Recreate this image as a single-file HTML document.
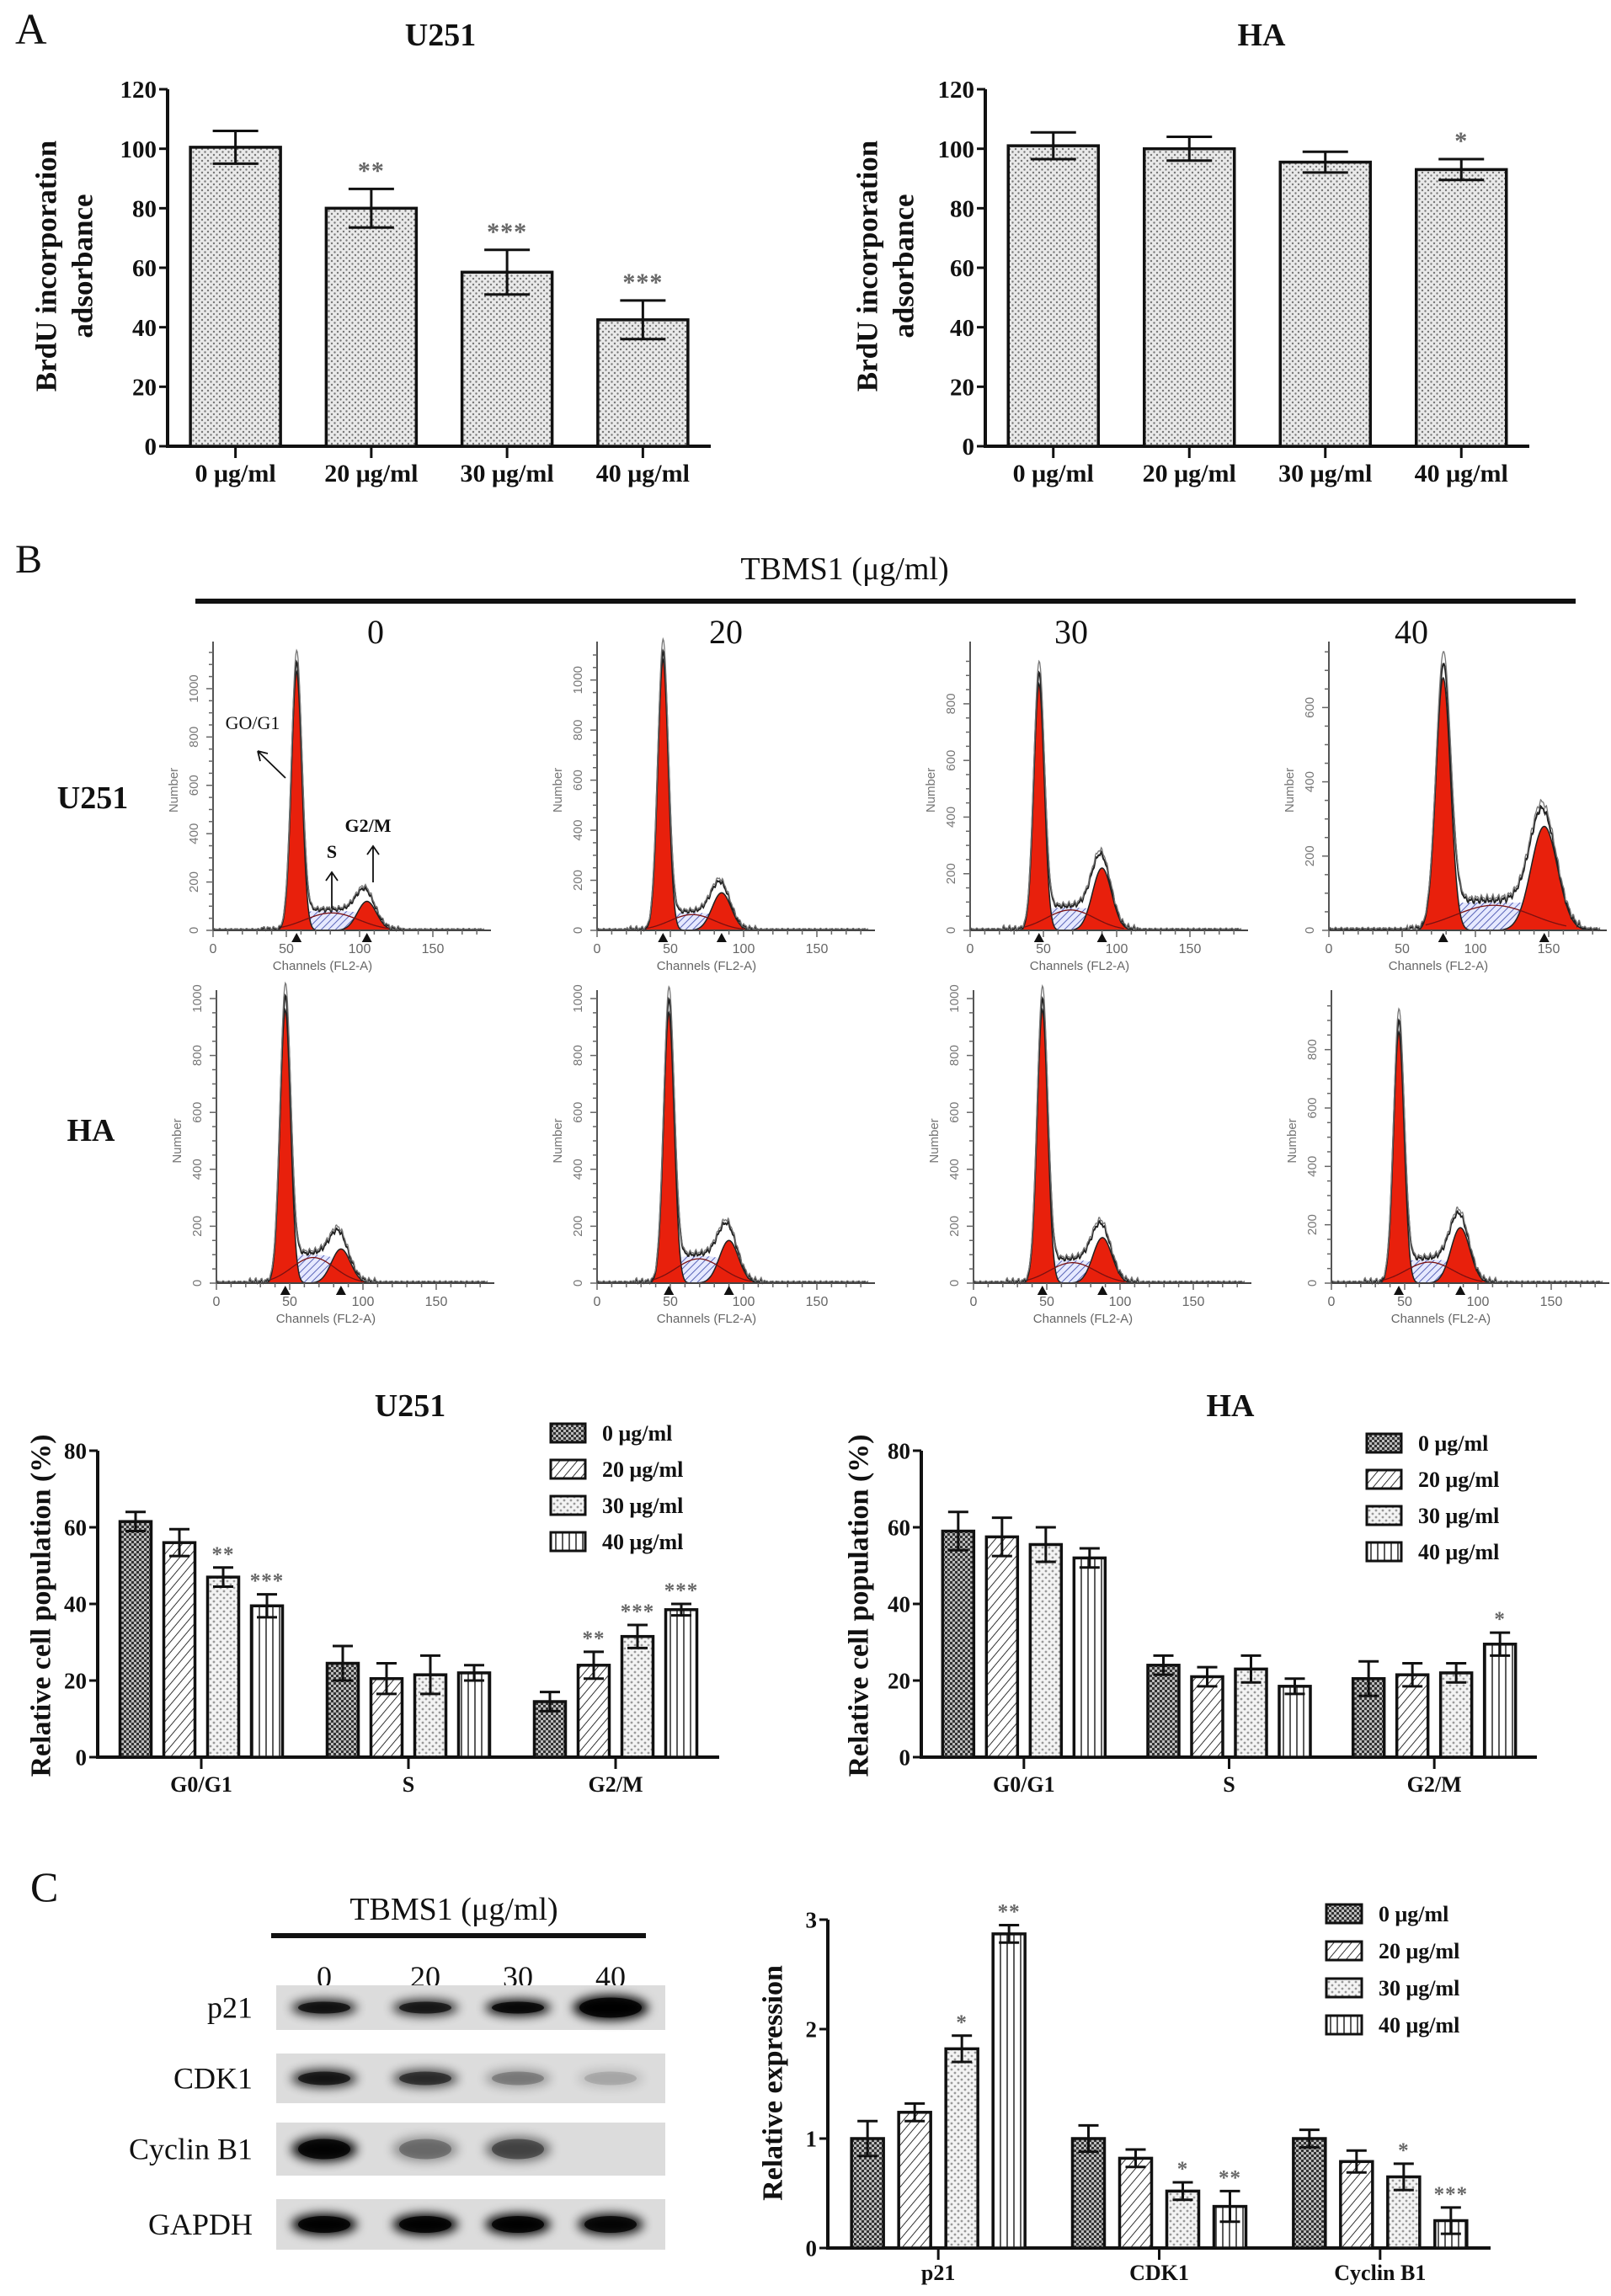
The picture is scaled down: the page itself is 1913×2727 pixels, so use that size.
<!DOCTYPE html>
<html><head><meta charset="utf-8"><style>
html,body{margin:0;padding:0;background:#fff;}
svg{display:block;}
text{font-family:"Liberation Serif",serif;}
.sans{font-family:"Liberation Sans",sans-serif;}
</style></head><body>
<svg id="fig" xmlns="http://www.w3.org/2000/svg" width="1913" height="2727" viewBox="0 0 1913 2727">
<defs>
<pattern id="pA" width="7" height="7" patternUnits="userSpaceOnUse"><rect width="7" height="7" fill="#e9e9e9"/><circle cx="2" cy="2" r="1.2" fill="#777"/><circle cx="5.5" cy="5.5" r="1.2" fill="#777"/></pattern>
<pattern id="p0" width="6" height="6" patternUnits="userSpaceOnUse"><rect width="6" height="6" fill="#bbb"/><rect width="3" height="3" fill="#333"/><rect x="3" y="3" width="3" height="3" fill="#333"/></pattern>
<pattern id="p20" width="8" height="8" patternUnits="userSpaceOnUse" patternTransform="rotate(40)"><rect width="8" height="8" fill="#fff"/><line x1="0" y1="0" x2="0" y2="8" stroke="#333" stroke-width="2"/></pattern>
<pattern id="p30" width="8" height="8" patternUnits="userSpaceOnUse"><rect width="8" height="8" fill="#f3f3f3"/><circle cx="2" cy="2" r="1.4" fill="#999"/><circle cx="6" cy="6" r="1.4" fill="#999"/></pattern>
<pattern id="p40" width="8" height="8" patternUnits="userSpaceOnUse"><rect width="8" height="8" fill="#fff"/><line x1="4" y1="0" x2="4" y2="8" stroke="#333" stroke-width="1.6"/></pattern>
<pattern id="pS" width="6" height="6" patternUnits="userSpaceOnUse" patternTransform="rotate(45)"><rect width="6" height="6" fill="#e6e9ff"/><line x1="0" y1="0" x2="0" y2="6" stroke="#4a56b0" stroke-width="1.8"/></pattern>
<filter id="blur" x="-30%" y="-80%" width="160%" height="260%"><feGaussianBlur stdDeviation="6"/></filter>
</defs>
<g id="root"></g>
</svg>
<script>
// ===== Panel A data =====
const aCategories = ["0 μg/ml","20 μg/ml","30 μg/ml","40 μg/ml"];
const aYTicks = [0,20,40,60,80,100,120];
const aU251Values = [100.5, 80, 58.5, 42.5];
const aU251Errors = [5.5, 6.5, 7.5, 6.5];
const aU251Stars = ["", "**", "***", "***"];
const aHAValues = [101, 100, 95.5, 93];
const aHAErrors = [4.5, 4, 3.5, 3.5];
const aHAStars = ["", "", "", "*"];
// ===== Panel B bar data =====
const bPhases = ["G0/G1","S","G2/M"];
const bDoses = ["0 μg/ml","20 μg/ml","30 μg/ml","40 μg/ml"];
const bYTicks = [0,20,40,60,80];
const bU251Values = [[61.5,56,47,39.5],[24.5,20.5,21.5,22],[14.5,24,31.5,38.5]];
const bU251Errors = [[2.5,3.5,2.5,3],[4.5,4,5,2],[2.5,3.5,3,1.5]];
const bU251Stars = [["","","**","***"],["","","",""],["","**","***","***"]];
const bHAValues = [[59,57.5,55.5,52],[24,21,23,18.5],[20.5,21.5,22,29.5]];
const bHAErrors = [[5,5,4.5,2.5],[2.5,2.5,3.5,2],[4.5,3,2.5,3]];
const bHAStars = [["","","",""],["","","",""],["","","","*"]];
// ===== Panel C data =====
const cProteins = ["p21","CDK1","Cyclin B1"];
const cYTicks = [0,1,2,3];
const cValues = [[1.0,1.24,1.82,2.87],[1.0,0.82,0.52,0.38],[1.0,0.79,0.65,0.25]];
const cErrors = [[0.16,0.08,0.12,0.08],[0.12,0.08,0.08,0.14],[0.08,0.1,0.12,0.12]];
const cStars = [["","","*","**"],["","","*","**"],["","","*","***"]];
// ===== Western blot intensities =====
const blotProteins = ["p21","CDK1","Cyclin B1","GAPDH"];
const blotLanes = ["0","20","30","40"];
const blotIntensity = [[0.85,0.8,0.95,1.0],[0.8,0.65,0.3,0.15],[0.95,0.35,0.5,0.0],[1,1,1,0.95]];
// ===== Flow histograms (channels / counts) =====
const flowG1Channel = [[57,45,47,78],[47,49,47,46]];
const flowG1Count = [[1070,1080,870,680],[960,950,960,860]];
const flowG2Channel = [[105,85,90,147],[85,90,88,88]];
const flowG2Count = [[120,150,220,280],[120,150,160,190]];
const flowSCount = [[80,70,80,75],[100,95,80,80]];
const flowYMax = [[1160,1120,990,755],[1000,1000,1000,975]];
const flowYStep = [[200,200,200,200],[200,200,200,200]];

const NS="http://www.w3.org/2000/svg";
const root=document.getElementById('root');
function el(tag,attrs,parent,txt){const e=document.createElementNS(NS,tag);for(const k in attrs)e.setAttribute(k,attrs[k]);if(txt!==undefined)e.textContent=txt;(parent||root).appendChild(e);return e;}

function text(x,y,s,size,opts,name,parent){
  const t=el('text',Object.assign({x:x,y:y,'font-size':size,fill:'#111'},opts||{}),parent,s);
  
  
  return t;
}

function barChart(cfg){
  const g=el('g',{});
  
  
  const yS=v=>cfg.y0-(v-0)/(cfg.yMax)*(cfg.y0-cfg.yTop);
  const nG=cfg.groups.length, band=(cfg.xEnd-cfg.x0)/nG;
  const gc=i=>cfg.x0+(i+0.5)*band;
  const ya=el('line',{x1:cfg.x0,y1:yS(cfg.yMax),x2:cfg.x0,y2:cfg.y0,stroke:'#111','stroke-width':4},g);
  
  
  const xa=el('line',{x1:cfg.x0-2,y1:cfg.y0,x2:cfg.xEnd,y2:cfg.y0,stroke:'#111','stroke-width':4},g);
  
  
  cfg.ticks.forEach(t=>{
    el('line',{x1:cfg.x0-10,y1:yS(t),x2:cfg.x0,y2:yS(t),stroke:'#111','stroke-width':3},g);
    text(cfg.x0-13,yS(t)+cfg.tickSize*0.35,String(t),cfg.tickSize,{'text-anchor':'end','font-weight':'bold'},'y-tick-label',g);
  });
  cfg.groups.forEach((lab,i)=>{
    el('line',{x1:gc(i),y1:cfg.y0,x2:gc(i),y2:cfg.y0+14,stroke:'#111','stroke-width':3},g);
    text(gc(i),cfg.xLabelY,lab,cfg.xLabelSize,{'text-anchor':'middle','font-weight':'bold'},'x-tick-label',g);
    const vals=cfg.values[i], errs=cfg.errors[i], stars=cfg.stars[i];
    const n=vals.length;
    for(let k=0;k<n;k++){
      const cx = n===1 ? gc(i) : gc(i)+(k-(n-1)/2)*cfg.step;
      const v=vals[k], e=errs[k];
      const r=el('rect',{x:cx-cfg.barW/2,y:yS(v),width:cfg.barW,height:cfg.y0-yS(v),fill:'url(#'+cfg.fills[k]+')',stroke:'#111','stroke-width':3.5},g);
      
      
      const cw=cfg.capW;
      el('path',{d:`M${cx},${yS(v+e)}V${yS(v-e)}M${cx-cw},${yS(v+e)}H${cx+cw}M${cx-cw},${yS(v-e)}H${cx+cw}`,stroke:'#111','stroke-width':3,fill:'none'},g);
      if(stars[k]){
        text(cx,yS(v+e)-cfg.starGap,stars[k],cfg.starSize,{'text-anchor':'middle',fill:'#666','font-weight':'bold','letter-spacing':'1'},'significance-star',g);
      }
    }
  });
  return g;
}

function legend(x,y,dy,boxW,boxH,fills,labels,size,name){
  const g=el('g',{});
  
  
  labels.forEach((l,i)=>{
    el('rect',{x:x,y:y+i*dy-boxH/2,width:boxW,height:boxH,fill:'url(#'+fills[i]+')',stroke:'#111','stroke-width':3},g);
    text(x+boxW+20,y+i*dy+size*0.35,l,size,{'font-weight':'bold'},'legend-entry',g);
  });
}

function ylabel(x,y,lines,size,gap,name){
  lines.forEach((s,i)=>{
    text(0,0,s,size,{'text-anchor':'middle','font-weight':'bold',transform:`translate(${x+i*gap},${y}) rotate(-90)`,'dominant-baseline':'central'},name);
  });
}

// ===== Panel A =====
text(18,52,"A",52,{},'panel-label-a');
text(523,54,"U251",38,{'text-anchor':'middle','font-weight':'bold'},'chart-title-a-u251');
text(1498,54,"HA",38,{'text-anchor':'middle','font-weight':'bold'},'chart-title-a-ha');
const wrap=a=>a.map(v=>[v]);
barChart({name:'chart-a-u251',x0:199,xEnd:844,y0:530,yTop:106,yMax:120,ticks:aYTicks,groups:aCategories,
  values:wrap(aU251Values),errors:wrap(aU251Errors),stars:wrap(aU251Stars),fills:['pA'],barW:107,step:0,capW:27,
  tickSize:29,xLabelY:572,xLabelSize:30,starGap:12,starSize:30});
barChart({name:'chart-a-ha',x0:1170,xEnd:1816,y0:530,yTop:106,yMax:120,ticks:aYTicks,groups:aCategories,
  values:wrap(aHAValues),errors:wrap(aHAErrors),stars:wrap(aHAStars),fills:['pA'],barW:107,step:0,capW:27,
  tickSize:29,xLabelY:572,xLabelSize:30,starGap:12,starSize:30});
ylabel(55,316,["BrdU incorporation","adsorbance"],35,43,'y-axis-title-a-u251');
ylabel(1030,316,["BrdU incorporation","adsorbance"],35,43,'y-axis-title-a-ha');

// ===== Panel B header =====
text(18,680,"B",48,{},'panel-label-b');
text(1003,688,"TBMS1 (μg/ml)",38,{'text-anchor':'middle'},'treatment-header-b');
el('rect',{x:232,y:711,width:1639,height:6,fill:'#111'});
const colX=[446,862,1272,1676];
blotLanes.forEach((l,i)=>text(colX[i],764,l,40,{'text-anchor':'middle'},'dose-column-label'));
text(110,960,"U251",38,{'text-anchor':'middle','font-weight':'bold'},'row-label-u251');
text(108,1355,"HA",38,{'text-anchor':'middle','font-weight':'bold'},'row-label-ha');

// ===== Flow histograms =====
const axX=[[253,709,1152,1578],[257,709,1156,1581]];
const baseY=[1105,1524], topY=[772,1186];
function flowPlot(r,c){
  const g=el('g',{});
  
  
  const x0=axX[r][c], y0=baseY[r], yt=topY[r], pxCh=1.74, xEnd=x0+330;
  const xs=ch=>x0+ch*pxCh, ys=v=>y0-v/flowYMax[r][c]*(y0-yt);
  const g1c=flowG1Channel[r][c], g1h=flowG1Count[r][c], g2c=flowG2Channel[r][c], g2h=flowG2Count[r][c], sh=flowSCount[r][c];
  const s1=(r===0&&c===3)?5:3.6, s2=(r===0&&c===3)?9:6.5;
  const sig=z=>1/(1+Math.exp(-z));
  const G1=ch=>g1h*Math.exp(-((ch-g1c)**2)/(2*s1*s1));
  const G2=ch=>g2h*Math.exp(-((ch-g2c)**2)/(2*s2*s2));
  const S=ch=>sh*sig((ch-g1c)/2.5)*sig((g2c-ch)/3);
  const noise=ch=>(5*Math.sin(ch*1.7)+4*Math.sin(ch*3.1)+6)*(1-Math.exp(-((ch-g1c)**2)/(2*(2*s1)**2)));
  const chs=[];for(let ch=0;ch<=185;ch+=0.5)chs.push(ch);
  let d='M'+xs(g1c)+','+y0;chs.filter(ch=>ch>=g1c&&ch<=g2c).forEach(ch=>d+='L'+xs(ch)+','+ys(S(ch)));d+='L'+xs(g2c)+','+y0+'Z';
  el('path',{d:d,fill:'url(#pS)',stroke:'none'},g);
  [G1,G2].forEach((f,k)=>{
    let p='M'+xs(0)+','+y0;chs.forEach(ch=>p+='L'+xs(ch)+','+ys(f(ch)));p+='L'+xs(185)+','+y0+'Z';
    const pe=el('path',{d:p,fill:'#e8200c',stroke:'#222','stroke-width':1.5},g);
    
    
  });
  let sp='';chs.filter(ch=>ch>=g1c-12&&ch<=g2c+15).forEach((ch,i)=>{const v=sh*0.9*Math.exp(-((ch-(g1c+g2c)/2)**2)/(2*((g2c-g1c)/2.6)**2));sp+=(i?'L':'M')+xs(ch)+','+ys(v);});
  el('path',{d:sp,fill:'none',stroke:'#7a1010','stroke-width':1.3},g);
  [0,1].forEach(o=>{
    let e='';chs.forEach((ch,i)=>{let v=G1(ch)+G2(ch)+S(ch)+noise(ch)*(ch>g1c-25&&ch<g2c+25?1:0.3);v=v*(1+o*0.04)+o*4;e+=(i?'L':'M')+xs(ch)+','+ys(Math.max(v,0));});
    el('path',{d:e,fill:'none',stroke:o?'#777':'#222','stroke-width':o?1.3:2},g);
  });
  el('line',{x1:x0,y1:yt-10,x2:x0,y2:y0,stroke:'#555','stroke-width':2},g);
  el('line',{x1:x0,y1:y0,x2:xEnd,y2:y0,stroke:'#444','stroke-width':2},g);
  for(let v=0;v<=flowYMax[r][c];v+=flowYStep[r][c]/4){el('line',{x1:x0-(v%flowYStep[r][c]===0?8:5),y1:ys(v),x2:x0,y2:ys(v),stroke:'#666','stroke-width':1.5},g);}
  for(let v=0;v<=flowYMax[r][c];v+=flowYStep[r][c]){
    text(0,0,String(v),15,{'text-anchor':'middle',fill:'#777',transform:`translate(${x0-18},${ys(v)}) rotate(-90)`,class:'sans'},'flow-y-tick',g);
  }
  for(let ch=0;ch<=185;ch+=10){el('line',{x1:xs(ch),y1:y0,x2:xs(ch),y2:y0+(ch%50===0?8:5),stroke:'#666','stroke-width':1.5},g);}
  [0,50,100,150].forEach(ch=>text(xs(ch),y0+27,String(ch),16,{'text-anchor':'middle',fill:'#666',class:'sans'},'flow-x-tick',g));
  text(x0+130,y0+47,"Channels (FL2-A)",15,{'text-anchor':'middle',fill:'#666',class:'sans'},'flow-x-title',g);
  text(0,0,"Number",15,{'text-anchor':'middle',fill:'#777',class:'sans',transform:`translate(${x0-42},${(y0+yt)/2}) rotate(-90)`},'flow-y-title',g);
  [g1c,g2c].forEach(ch=>el('path',{d:`M${xs(ch)-6},${y0+14}L${xs(ch)},${y0+3}L${xs(ch)+6},${y0+14}Z`,fill:'#111'},g));
}
for(let r=0;r<2;r++)for(let c=0;c<4;c++)flowPlot(r,c);
text(300,866,"GO/G1",22,{'text-anchor':'middle'},'annotation-g0g1');
el('path',{d:'M339,924L306,892M306,892l3,12M306,892l12,3',stroke:'#111','stroke-width':1.8,fill:'none'});
text(394,1019,"S",22,{'text-anchor':'middle','font-weight':'bold'},'annotation-s');
el('path',{d:'M394,1079V1036m-7,10l7,-10l7,10',stroke:'#111','stroke-width':1.8,fill:'none'});
text(437,988,"G2/M",22,{'text-anchor':'middle','font-weight':'bold'},'annotation-g2m');
el('path',{d:'M443,1048V1005m-7,10l7,-10l7,10',stroke:'#111','stroke-width':1.8,fill:'none'});

// ===== Panel B bar charts =====
const fills4=['p0','p20','p30','p40'];
text(487,1682,"U251",38,{'text-anchor':'middle','font-weight':'bold'},'chart-title-b-u251');
text(1461,1682,"HA",38,{'text-anchor':'middle','font-weight':'bold'},'chart-title-b-ha');
barChart({name:'chart-b-u251',x0:116,xEnd:854,y0:2087,yTop:1723,yMax:80,ticks:bYTicks,groups:bPhases,
  values:bU251Values,errors:bU251Errors,stars:bU251Stars,fills:fills4,barW:37,step:52,capW:12,
  tickSize:27,xLabelY:2128,xLabelSize:26,starGap:8,starSize:25});
barChart({name:'chart-b-ha',x0:1094,xEnd:1825,y0:2087,yTop:1723,yMax:80,ticks:bYTicks,groups:bPhases,
  values:bHAValues,errors:bHAErrors,stars:bHAStars,fills:fills4,barW:37,step:52,capW:12,
  tickSize:27,xLabelY:2128,xLabelSize:26,starGap:8,starSize:25});
legend(654,1702,43,41,22,fills4,bDoses,26,'legend-b-u251');
legend(1623,1714,43,41,22,fills4,bDoses,26,'legend-b-ha');
ylabel(49,1907,["Relative cell population (%)"],34,0,'y-axis-title-b-u251');
ylabel(1020,1907,["Relative cell population (%)"],34,0,'y-axis-title-b-ha');

// ===== Panel C blot =====
text(36,2258,"C",50,{},'panel-label-c');
text(539,2280,"TBMS1 (μg/ml)",38,{'text-anchor':'middle'},'treatment-header-c');
el('rect',{x:322,y:2296,width:445,height:6,fill:'#111'});
const laneX=[385,505,615,725];
blotLanes.forEach((l,i)=>text(laneX[i],2360,l,36,{'text-anchor':'middle'},'lane-label'));
const stripY=[[2358,2411],[2439,2498],[2521,2584],[2612,2672]];
const bandH=[20,22,30,26];
blotProteins.forEach((p,i)=>{
  const g=el('g',{});
  
  
  const [y1,y2]=stripY[i];
  el('rect',{x:328,y:y1,width:462,height:y2-y1,fill:'#dcdcdc'},g);
  const cy=(y1+y2)/2;
  blotIntensity[i].forEach((v,k)=>{
    if(v<=0)return;
    const w=(i===0&&k===3)?90:78, h=bandH[i]*(i===0&&k===3?1.5:1);
    el('ellipse',{cx:laneX[k],cy:cy,rx:w/2,ry:h/2,fill:'#000',opacity:v,filter:'url(#blur)'},g);
    el('ellipse',{cx:laneX[k],cy:cy,rx:w/2-8,ry:h/2-3,fill:'#000',opacity:v*0.8},g);
  });
  text(300,cy+12,p,36,{'text-anchor':'end'},'blot-label',g);
});

// ===== Panel C chart =====
barChart({name:'chart-c-expression',x0:983,xEnd:1770,y0:2670,yTop:2280,yMax:3,ticks:cYTicks,groups:cProteins,
  values:cValues,errors:cErrors,stars:cStars,fills:fills4,barW:38,step:56,capW:12,
  tickSize:27,xLabelY:2708,xLabelSize:26,starGap:8,starSize:25});
legend(1575,2273,44,42,22,fills4,bDoses,26,'legend-c');
ylabel(918,2474,["Relative expression"],34,0,'y-axis-title-c');
</script>
</body></html>
